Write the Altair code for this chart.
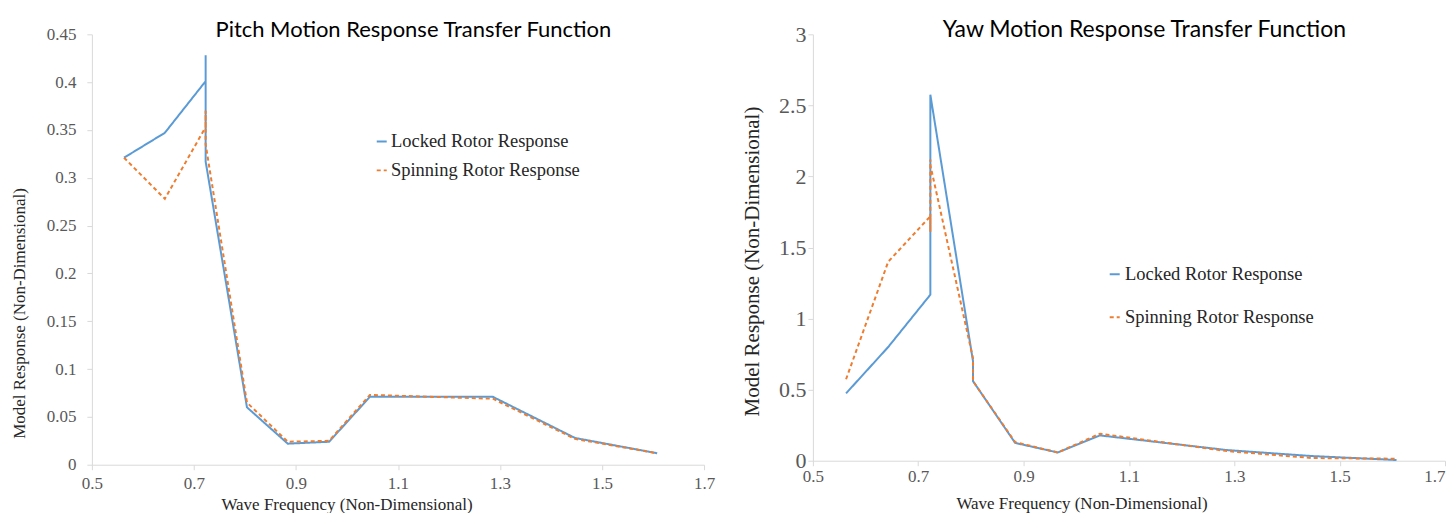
import altair as alt
import pandas as pd

SERIES = ["Locked Rotor Response", "Spinning Rotor Response"]
COLORS = ["#5B9BD5", "#ED7D31"]

# Pitch panel
pitch_freq_locked = [0.563, 0.643, 0.723, 0.723, 0.723, 0.804, 0.884, 0.965, 1.045, 1.286, 1.447, 1.608]
pitch_locked = [0.321, 0.347, 0.401, 0.428, 0.317, 0.060, 0.022, 0.024, 0.071, 0.071, 0.028, 0.012]
pitch_freq_spin = [0.563, 0.643, 0.723, 0.723, 0.723, 0.804, 0.884, 0.965, 1.045, 1.286, 1.447, 1.608]
pitch_spin = [0.321, 0.278, 0.353, 0.370, 0.335, 0.065, 0.024, 0.025, 0.073, 0.069, 0.027, 0.012]

# Yaw panel
yaw_freq_locked = [0.563, 0.643, 0.723, 0.723, 0.723, 0.804, 0.804, 0.884, 0.965, 1.045, 1.286, 1.447, 1.608]
yaw_locked = [0.474, 0.80, 1.168, 1.40, 2.575, 0.70, 0.56, 0.125, 0.058, 0.178, 0.075, 0.033, 0.005]
yaw_freq_spin = [0.563, 0.643, 0.723, 0.723, 0.723, 0.723, 0.804, 0.804, 0.884, 0.965, 1.045, 1.286, 1.447, 1.608]
yaw_spin = [0.573, 1.40, 1.72, 1.61, 2.12, 2.08, 0.72, 0.56, 0.131, 0.058, 0.19, 0.068, 0.019, 0.014]

x_ticks = [0.5, 0.7, 0.9, 1.1, 1.3, 1.5, 1.7]
pitch_y_ticks = [0, 0.05, 0.1, 0.15, 0.2, 0.25, 0.3, 0.35, 0.4, 0.45]
yaw_y_ticks = [0, 0.5, 1, 1.5, 2, 2.5, 3]

SERIF = "Liberation Serif"
TITLE_FONT = "Lato"


def series_df(freqs, vals, name):
    return pd.DataFrame({"freq": freqs, "resp": vals, "series": name,
                         "idx": list(range(len(freqs)))})


def panel(df, title, width, height, ydom, yticks, yfmt, ycfg, xcfg, leg, tcfg):
    lines = alt.Chart(df).mark_line(strokeWidth=2).encode(
        x=alt.X("freq:Q",
                scale=alt.Scale(domain=[0.5, 1.7], nice=False, zero=False),
                axis=alt.Axis(values=x_ticks, format=".1f", grid=False, labelFlush=False,
                              labelAlign=xcfg["labelAlign"],
                              title="Wave Frequency (Non-Dimensional)",
                              titleFont=SERIF, titleFontSize=17, titleFontWeight="normal",
                              titleColor="#262626", titleX=xcfg["titleX"], titleY=xcfg["titleY"],
                              labelFont=SERIF, labelFontSize=17, labelColor="#595959",
                              labelPadding=xcfg["labelPadding"], tickSize=5,
                              domainColor="#D9D9D9", tickColor="#D9D9D9")),
        y=alt.Y("resp:Q",
                scale=alt.Scale(domain=ydom, nice=False),
                axis=alt.Axis(values=yticks, format=yfmt, grid=False,
                              title="Model Response (Non-Dimensional)",
                              titleFont=SERIF, titleFontSize=ycfg["titleFontSize"],
                              titleFontWeight="normal", titleColor="#262626",
                              titleX=ycfg["titleX"], titleY=ycfg["titleY"],
                              labelFont=SERIF, labelFontSize=ycfg["labelFontSize"],
                              labelColor="#595959", labelPadding=ycfg["labelPadding"],
                              tickSize=5, domainColor="#D9D9D9", tickColor="#D9D9D9")),
        color=alt.Color("series:N",
                        scale=alt.Scale(domain=SERIES, range=COLORS),
                        legend=alt.Legend(title=None, orient="none",
                                          legendX=leg["x"], legendY=leg["y"],
                                          symbolType="stroke", symbolSize=100,
                                          symbolStrokeWidth=2, labelFont=SERIF,
                                          labelFontSize=18.5, labelColor="#262626",
                                          labelLimit=0,
                                          labelOffset=leg["offset"], rowPadding=leg["row"],
                                          padding=0)),
        strokeDash=alt.StrokeDash("series:N",
                                  scale=alt.Scale(domain=SERIES, range=[[1, 0], [4, 3]]),
                                  legend=None),
        order="idx:Q",
    )
    ttl = alt.Chart(alt.Data(values=[{"t": title}])).mark_text(
        font=TITLE_FONT, fontSize=tcfg["size"], align="center", baseline="alphabetic",
        color="#000000"
    ).encode(x=alt.value(tcfg["x"]), y=alt.value(tcfg["y"]), text="t:N")
    return alt.layer(lines, ttl).properties(width=width, height=height)


pitch_df = pd.concat([series_df(pitch_freq_locked, pitch_locked, SERIES[0]),
                      series_df(pitch_freq_spin, pitch_spin, SERIES[1])])
yaw_df = pd.concat([series_df(yaw_freq_locked, yaw_locked, SERIES[0]),
                    series_df(yaw_freq_spin, yaw_spin, SERIES[1])])

left = panel(pitch_df, "Pitch Motion Response Transfer Function", 613, 431,
             [0, 0.45], pitch_y_ticks, ".2~f",
             {"titleFontSize": 17, "titleX": -63, "titleY": 279, "labelFontSize": 17, "labelPadding": 11},
             {"titleX": 255, "titleY": 32, "labelPadding": 6, "labelAlign": "center"},
             {"x": 281, "y": 98, "offset": 0, "row": 10},
             {"size": 22, "x": 322, "y": 3})

right = panel(yaw_df, "Yaw Motion Response Transfer Function", 633, 427,
              [0, 3], yaw_y_ticks, ".1~f",
              {"titleFontSize": 21, "titleX": -50, "titleY": 227, "labelFontSize": 22, "labelPadding": 2},
              {"titleX": 269, "titleY": 35, "labelPadding": 3,
               "labelAlign": {"condition": {"test": "datum.value > 1.69", "value": "right"},
                              "value": "center"}},
              {"x": 293, "y": 231, "offset": 1, "row": 24},
              {"size": 23, "x": 332, "y": 3})

chart = alt.hconcat(left, right, spacing=109, bounds="flush").resolve_scale(
    color="independent", strokeDash="independent"
).resolve_legend(color="independent", strokeDash="independent").properties(
    padding={"left": 3, "top": 11, "right": 0, "bottom": 0}
).configure_view(stroke=None)

chart.save("out.html", embed_options={"renderer": "svg", "actions": False})
